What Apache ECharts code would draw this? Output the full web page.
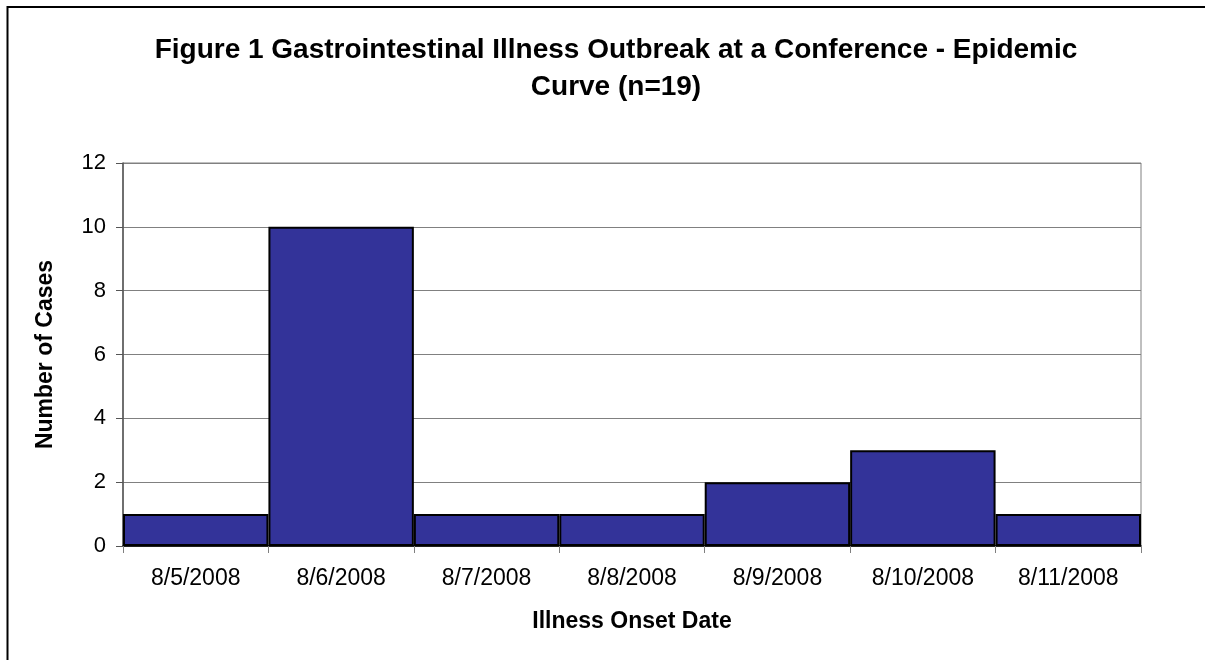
<!DOCTYPE html>
<html>
<head>
<meta charset="utf-8">
<script src="https://cdn.jsdelivr.net/npm/echarts@6/dist/echarts.min.js"></script>
<style>
html,body{margin:0;padding:0;background:#fff;}
#c{width:1205px;height:660px;}
</style>
</head>
<body>
<div id="c"></div>
<script>
const titleText = 'Figure 1 Gastrointestinal Illness Outbreak at a Conference - Epidemic\nCurve (n=19)';
const categories = ['8/5/2008','8/6/2008','8/7/2008','8/8/2008','8/9/2008','8/10/2008','8/11/2008'];
const cases = [1, 10, 1, 1, 2, 3, 1];
const yTicks = [0, 2, 4, 6, 8, 10, 12];

const FONT = 'Liberation Sans, Arial, sans-serif';
const chart = echarts.init(document.getElementById('c'));
chart.setOption({
  backgroundColor: '#ffffff',
  animation: false,
  textStyle: { fontFamily: FONT },
  title: {
    text: titleText,
    left: 611,
    top: 27,
    textAlign: 'center',
    textStyle: { fontFamily: FONT, fontWeight: 'bold', fontSize: 28, lineHeight: 37, color: '#000' }
  },
  graphic: [{
    type: 'rect',
    shape: { x: 7.5, y: 7, width: 1220, height: 680 },
    style: { fill: 'none', stroke: '#000', lineWidth: 2 },
    silent: true
  }],
  grid: {
    left: 123, right: 64, top: 163, bottom: 114,
    show: true, borderColor: '#808080', borderWidth: 1, backgroundColor: 'transparent'
  },
  xAxis: {
    type: 'category',
    data: categories,
    boundaryGap: true,
    name: 'Illness Onset Date',
    nameLocation: 'middle',
    nameGap: 64,
    nameTextStyle: { fontFamily: FONT, fontWeight: 'bold', fontSize: 23, color: '#000' },
    axisLine: { show: true, lineStyle: { color: '#000', width: 1.5 } },
    axisTick: { show: true, alignWithLabel: false, length: 7, lineStyle: { color: '#808080', width: 1 } },
    axisLabel: { fontFamily: FONT, fontSize: 23, color: '#000', margin: 21, interval: 0 },
    splitLine: { show: false }
  },
  yAxis: {
    type: 'value',
    min: yTicks[0],
    max: yTicks[yTicks.length - 1],
    interval: yTicks[1] - yTicks[0],
    name: 'Number of Cases',
    nameLocation: 'middle',
    nameGap: 66,
    nameRotate: 90,
    nameTextStyle: { fontFamily: FONT, fontWeight: 'bold', fontSize: 23, color: '#000' },
    axisLine: { show: true, lineStyle: { color: '#555', width: 1.5 } },
    axisTick: { show: true, length: 7, lineStyle: { color: '#555', width: 1 } },
    axisLabel: { fontFamily: FONT, fontSize: 22, color: '#000', margin: 17 },
    splitLine: { show: true, lineStyle: { color: '#808080', width: 1.2 } }
  },
  series: [{
    type: 'bar',
    data: cases,
    barCategoryGap: '0%',
    itemStyle: { color: '#333399', borderColor: '#000', borderWidth: 2 }
  }]
});
</script>
</body>
</html>
